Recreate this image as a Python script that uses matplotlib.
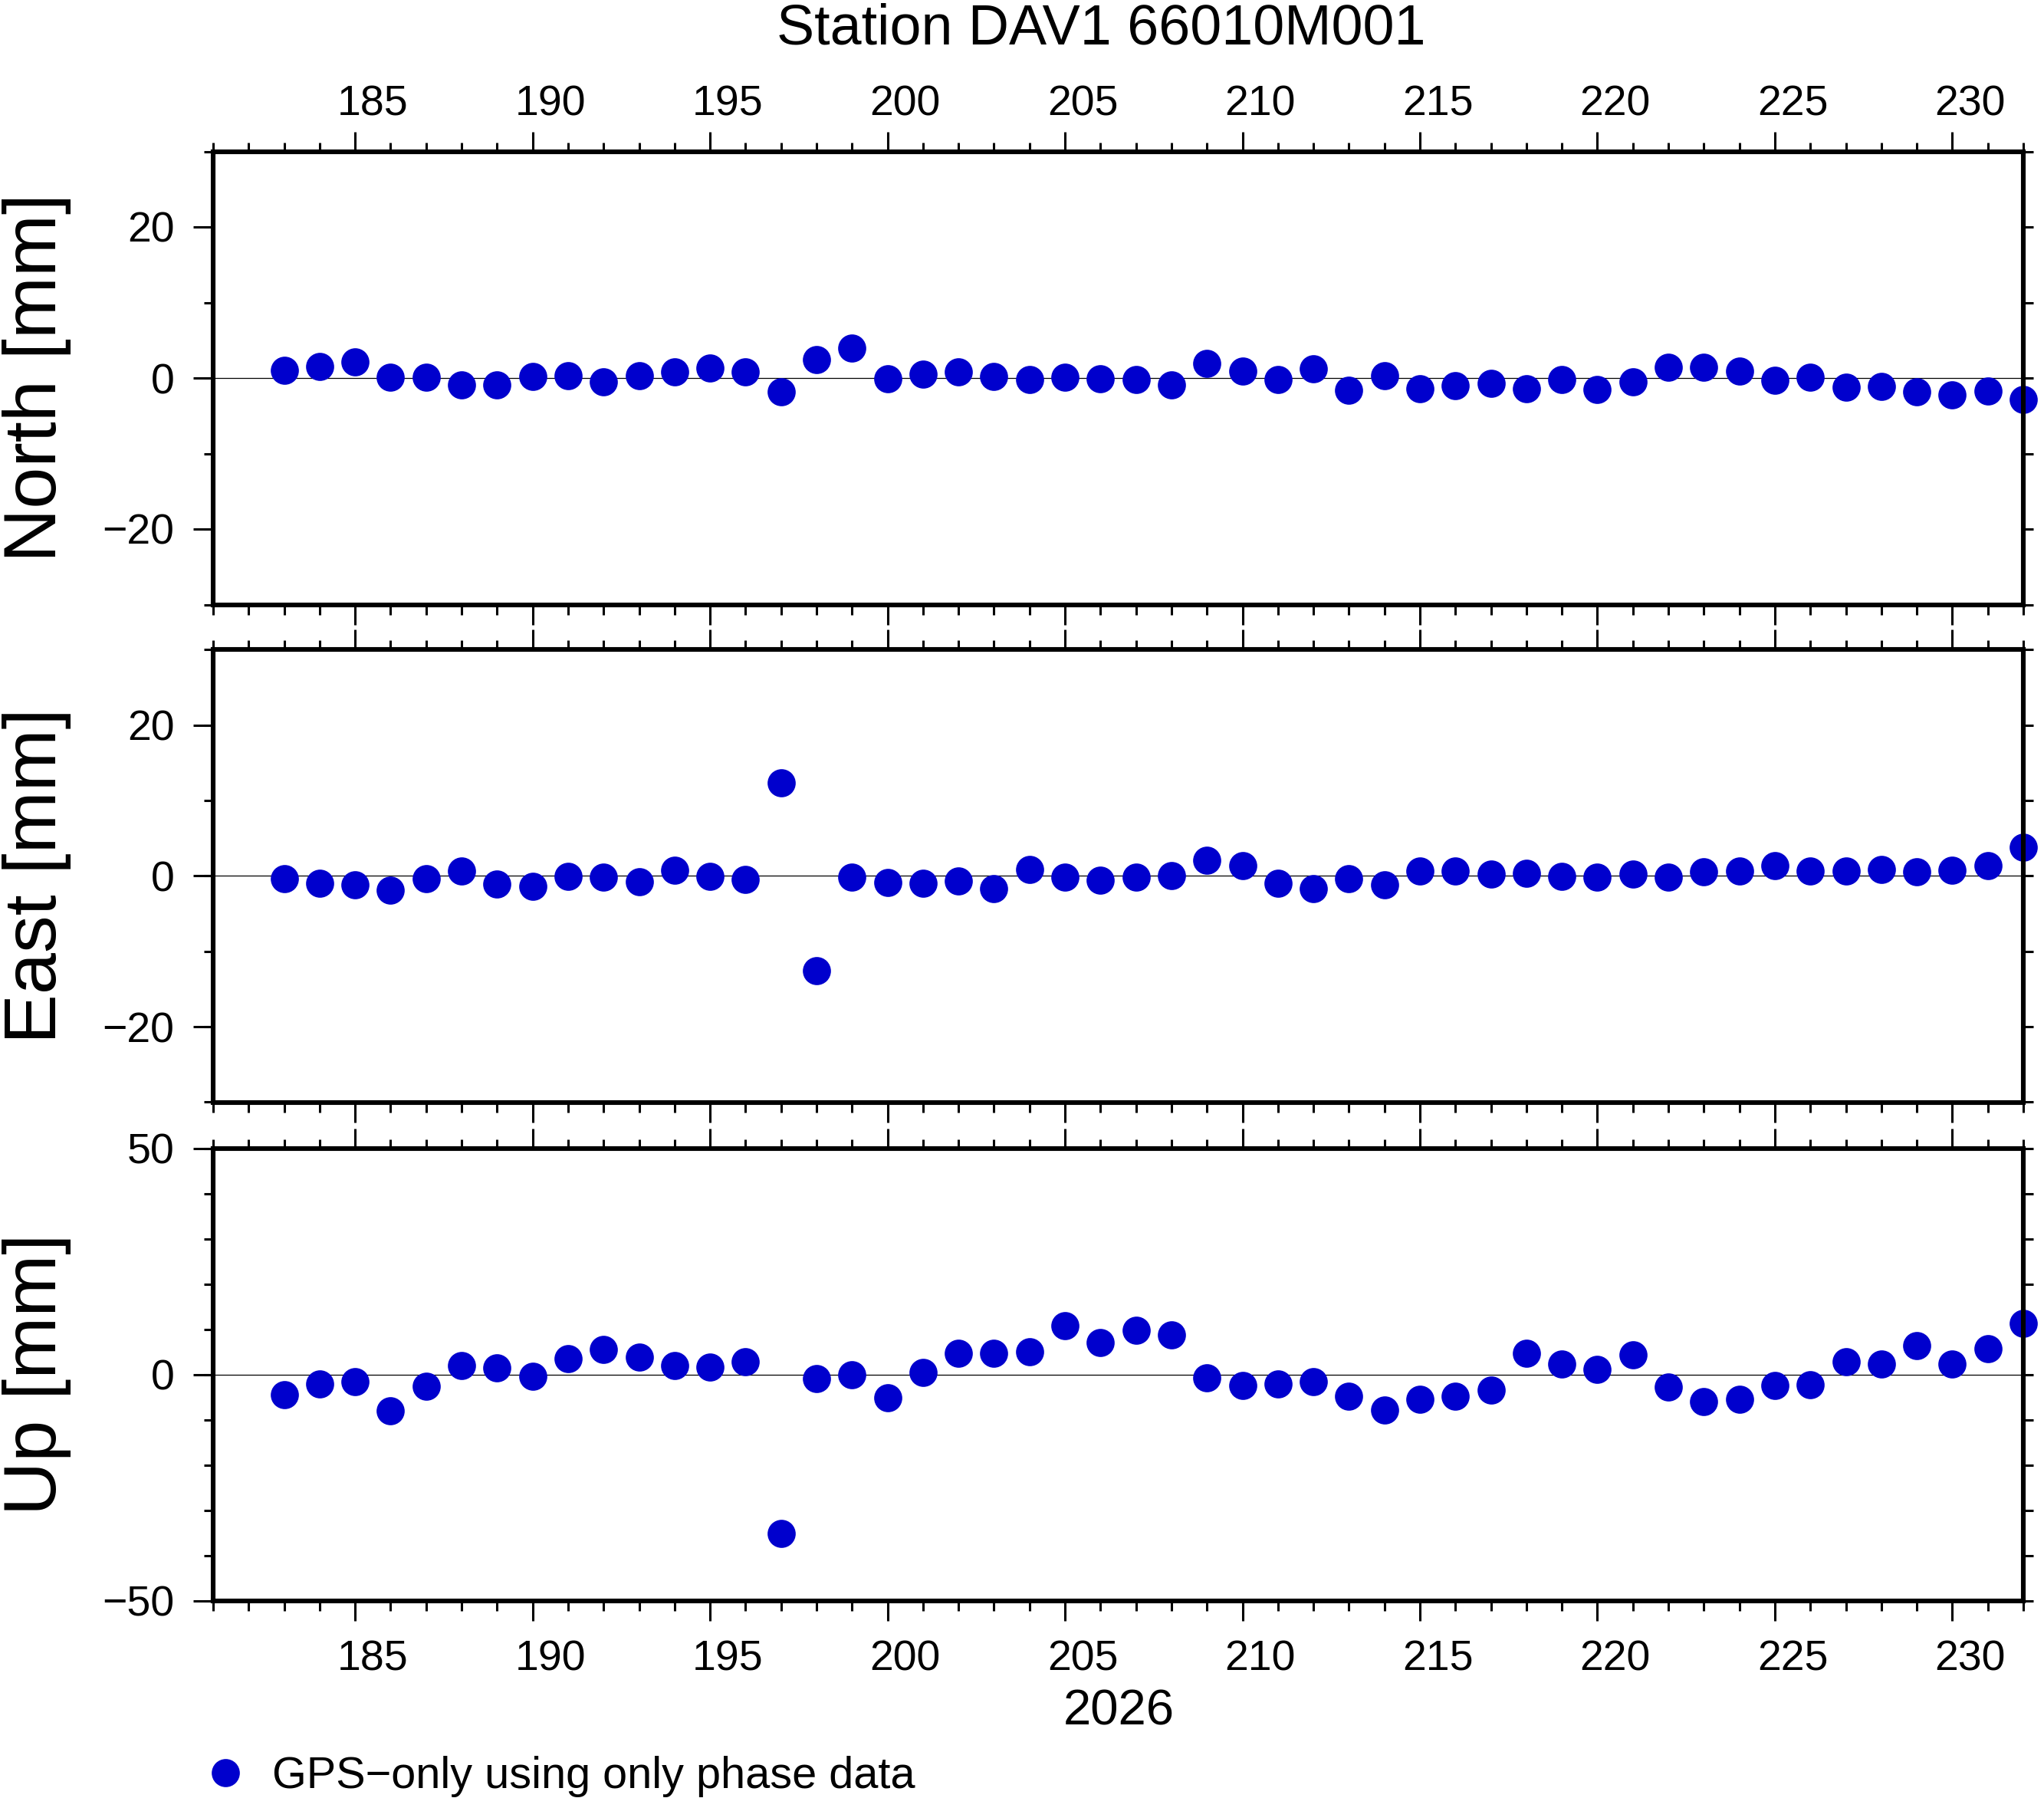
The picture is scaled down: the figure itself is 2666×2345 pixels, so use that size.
import matplotlib
matplotlib.use('Agg')
import matplotlib.pyplot as plt
from matplotlib.ticker import MultipleLocator, FixedLocator, FixedFormatter
from matplotlib.lines import Line2D
import matplotlib.transforms as mtransforms

plt.rcParams['font.family'] = ['Liberation Sans', 'DejaVu Sans']

# ---------------- data ----------------
days = [183, 184, 185, 186, 187, 188, 189, 190, 191, 192,
        193, 194, 195, 196, 197, 198, 199, 200, 201, 202,
        203, 204, 205, 206, 207, 208, 209, 210, 211, 212,
        213, 214, 215, 216, 217, 218, 219, 220, 221, 222,
        223, 224, 225, 226, 227, 228, 229, 230, 231, 232]

north = [1.05, 1.54, 2.09, 0.10, 0.10, -0.88, -0.88, 0.22, 0.28, -0.50,
         0.33, 0.80, 1.35, 0.80, -1.78, 2.46, 4.00, -0.06, 0.55, 0.86,
         0.18, -0.18, 0.12, -0.06, -0.18, -0.92, 1.97, 0.92, -0.18, 1.23,
         -1.66, 0.30, -1.43, -0.99, -0.66, -1.43, -0.17, -1.54, -0.55, 1.43,
         1.43, 0.94, -0.33, 0.11, -1.21, -1.10, -1.82, -2.20, -1.71, -2.81]

east = [-0.36, -0.95, -1.22, -1.90, -0.36, 0.63, -1.09, -1.40, -0.05, -0.18,
        -0.72, 0.72, -0.09, -0.41, 12.40, -12.56, -0.18, -0.90, -0.95, -0.68,
        -1.72, 0.82, -0.18, -0.52, -0.14, 0.05, 2.09, 1.40, -1.00, -1.68,
        -0.32, -1.18, 0.68, 0.68, 0.27, 0.36, -0.05, -0.14, 0.27, -0.14,
        0.54, 0.68, 1.40, 0.68, 0.68, 0.82, 0.59, 0.77, 1.40, 3.80]

up = [-4.55, -2.13, -1.65, -8.04, -2.71, 2.03, 1.36, -0.48, 3.49, 5.43,
      3.78, 2.03, 1.65, 2.81, -35.20, -0.97, 0.00, -5.14, 0.48, 4.71,
      4.71, 5.05, 10.72, 6.97, 9.70, 8.81, -0.68, -2.39, -2.05, -1.57,
      -4.78, -7.86, -5.46, -4.78, -3.40, 4.71, 2.32, 1.16, 4.37, -2.73,
      -5.94, -5.46, -2.39, -2.25, 2.87, 2.32, 6.28, 2.32, 5.60, 11.20]

day_ticks = [185, 190, 195, 200, 205, 210, 215, 220, 225, 230]
day_labels = ['185', '190', '195', '200', '205', '210', '215', '220', '225', '230']
x_range = (181, 232)

panel_names = ['North [mm]', 'East [mm]', 'Up [mm]']
panel_series = [north, east, up]
panel_ylims = [(-30, 30), (-30, 30), (-50, 50)]
panel_ymajor = [[-20, 0, 20], [-20, 0, 20], [-50, 0, 50]]
panel_ymajor_labels = [['\u221220', '0', '20'], ['\u221220', '0', '20'], ['\u221250', '0', '50']]

title = 'Station DAV1 66010M001'
year_label = '2026'
legend_label = 'GPS\u2212only using only phase data'

# ---------------- style / layout ----------------
W, H = 2666, 2345
DPI = 100
fig = plt.figure(figsize=(W / DPI, H / DPI), dpi=DPI)
fig.patch.set_facecolor('white')

left_px, right_px = 278, 2639
panels_px = [(197.5, 788.5), (847.5, 1437.5), (1497.5, 2087.5)]
dot_color = '#0000CD'
tick_fs = 40
spine_lw = 4.4
tick_w = 2.2
maj_len = 18.4
min_len = 9.0

half_day_in = 0.5 * (right_px - left_px) / (x_range[1] - x_range[0]) / DPI
offset = mtransforms.ScaledTranslation(half_day_in, 0, fig.dpi_scale_trans)

axes = []
for i, (top, bot) in enumerate(panels_px):
    ax = fig.add_axes([left_px / W, 1 - bot / H, (right_px - left_px) / W, (bot - top) / H])
    axes.append(ax)
    ax.axhline(0, color='black', lw=0.9, zorder=1)
    ax.plot(days, panel_series[i], linestyle='none', marker='o', ms=26.4,
            mec='none', mfc=dot_color, clip_on=False, zorder=3)
    ax.set_xlim(*x_range)
    ax.set_ylim(*panel_ylims[i])

    for sp in ax.spines.values():
        sp.set_linewidth(spine_lw)
        sp.set_zorder(4)

    # x ticks
    ax.xaxis.set_major_locator(FixedLocator(day_ticks))
    ax.xaxis.set_major_formatter(FixedFormatter(day_labels))
    ax.xaxis.set_minor_locator(MultipleLocator(1))
    ax.tick_params(axis='x', which='both', direction='out', top=True, bottom=True,
                   width=tick_w, labelsize=tick_fs)
    ax.tick_params(axis='x', which='major', length=maj_len)
    ax.tick_params(axis='x', which='minor', length=min_len)
    if i == 0:
        ax.tick_params(axis='x', which='major', labeltop=True, labelbottom=False, pad=7)
    elif i == 2:
        ax.tick_params(axis='x', which='major', labeltop=False, labelbottom=True, pad=18.5)
    else:
        ax.tick_params(axis='x', which='major', labeltop=False, labelbottom=False)

    # y ticks
    ax.yaxis.set_major_locator(FixedLocator(panel_ymajor[i]))
    ax.yaxis.set_major_formatter(FixedFormatter(panel_ymajor_labels[i]))
    ax.yaxis.set_minor_locator(MultipleLocator(10))
    ax.yaxis.remove_overlapping_locs = False
    ax.tick_params(axis='y', which='major', direction='out', left=True, right=False,
                   length=maj_len, width=tick_w, labelsize=tick_fs, pad=18)
    ax.tick_params(axis='y', which='minor', direction='out', left=True, right=True,
                   length=min_len, width=tick_w)

    fig.text(48 / W, 1 - (top + bot) / 2 / H, panel_names[i], rotation=90,
             ha='center', va='center', fontsize=70)

fig.text(1436 / W, 1 - 57.6 / H, title, ha='center', va='baseline', fontsize=53)
fig.text(1459 / W, 1 - 2250 / H, year_label, ha='center', va='baseline', fontsize=47)

handle = Line2D([], [], linestyle='none', marker='o', ms=26.4, mec='none', mfc=dot_color)
fig.legend(handles=[handle], labels=[legend_label], loc='center left',
           bbox_to_anchor=(265.5 / W, 1 - 2317 / H), frameon=False, borderpad=0,
           borderaxespad=0, handlelength=1.0, handletextpad=0.55, fontsize=41.5)

# shift day labels to the middle of the day interval
fig.canvas.draw()
for ax in axes:
    for tick in ax.xaxis.get_major_ticks():
        tick.label1.set_transform(tick.label1.get_transform() + offset)
        tick.label2.set_transform(tick.label2.get_transform() + offset)

fig.savefig('out.png', dpi=DPI, facecolor='white')
